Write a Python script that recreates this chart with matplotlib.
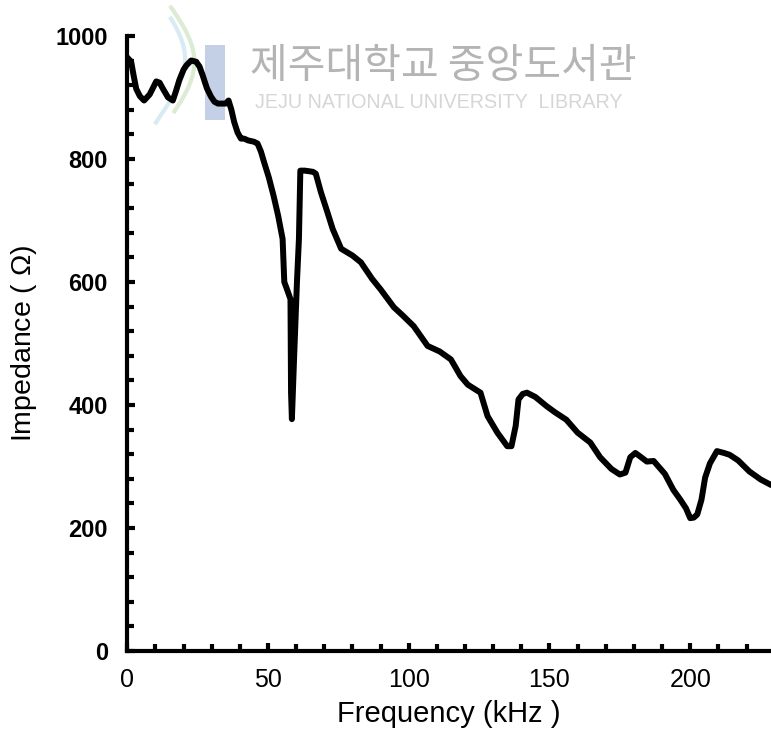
import numpy as np
import matplotlib
matplotlib.use("Agg")
import matplotlib.pyplot as plt
from matplotlib.ticker import MultipleLocator
from matplotlib.patches import Rectangle

plt.rcParams["mathtext.fontset"] = "custom"
plt.rcParams["mathtext.it"] = "Liberation Sans:italic"
plt.rcParams["mathtext.rm"] = "Liberation Sans"

# impedance sweep (kHz, ohm)
freq = [0, 1.4, 2.3, 3.2, 4.5, 6, 8, 10.3, 11.5, 12.7, 14.5, 16.2, 17.3, 18.5,
        20, 21, 22.7, 24.5, 25.7, 26.8, 28.3, 29.8, 31, 32.2, 35, 36, 37, 38,
        39.2, 40.4, 41.5, 43, 45, 46.3, 47.5, 48.6, 50.3, 52, 53.6, 55.2, 55.8,
        57, 58, 58.2, 58.5, 59.3, 60.3, 61, 61.5, 63, 64.6, 66, 67, 68.8, 71,
        73, 76, 80, 83, 87, 90, 94.7, 98, 101.8, 106.7, 111, 115, 118.4, 121,
        125.5, 128, 131.5, 135, 136.5, 138, 139, 140.5, 142, 145, 149, 152,
        156, 160, 164.5, 168, 172, 175, 177, 178.7, 180.5, 182, 184.6, 187,
        191, 194, 196.5, 198.5, 200, 201.3, 202.5, 204, 205.3, 207, 209.5,
        212, 214, 217, 221, 225, 228.7]
impedance = [965, 958, 935, 914, 902, 895, 905, 926, 924, 914, 900, 895, 910,
             928, 945, 952, 960, 958, 950, 936, 915, 901, 893, 890, 890, 895,
             880, 860, 843, 833, 833, 830, 828, 825, 812, 795, 770, 740, 708,
             670, 600, 585, 572, 420, 377, 479, 600, 670, 781, 781, 780, 779,
             776, 746, 715, 686, 654, 643, 632, 605, 588, 559, 545, 528, 496,
             487, 474, 447, 433, 420, 382, 355, 333, 333, 366, 409, 418, 420,
             413, 398, 388, 376, 355, 339, 315, 296, 287, 290, 315, 322, 317,
             308, 309, 288, 262, 246, 232, 216, 217, 222, 246, 282, 305, 325,
             322, 319, 310, 292, 279, 270]

fig = plt.figure(figsize=(7.71, 7.42), dpi=100)
ax = fig.add_axes([0.165, 0.1226, 0.835, 0.829])
ax.set_zorder(2)
ax.set_facecolor("none")

# library watermark behind the plot
fig.text(0.3245, 0.911, "제주대학교 중앙도서관", fontsize=29.5, color="#b4b4b4",
         family=["Noto Sans CJK KR", "DejaVu Sans"], va="center", ha="left", zorder=0)
fig.text(0.331, 0.862, "JEJU NATIONAL UNIVERSITY  LIBRARY", fontsize=14.2,
         color="#d6d6d6", family="Liberation Sans", va="center", ha="left", zorder=0)
fig.patches.append(Rectangle((0.266, 0.838), 0.026, 0.102, transform=fig.transFigure,
                             facecolor="#c3d0e6", edgecolor="none", zorder=0))
t = np.linspace(0, 1, 40)
fig.lines.append(plt.Line2D(0.222 + 0.03 * np.sin(t * 3.0), 0.99 - 0.14 * t,
                            transform=fig.transFigure, color="#dcebd3", lw=3, zorder=0))
fig.lines.append(plt.Line2D(0.210 + 0.03 * np.sin(t * 3.0 + 0.4), 0.975 - 0.14 * t,
                            transform=fig.transFigure, color="#d8eaf2", lw=3, zorder=0))

ax.plot(freq, impedance, color="black", lw=4.3, solid_joinstyle="round",
        solid_capstyle="round", zorder=3)

ax.set_xlim(0, 228.7)
ax.set_ylim(0, 1000)
ax.spines["top"].set_visible(False)
ax.spines["right"].set_visible(False)
for s in ("left", "bottom"):
    ax.spines[s].set_linewidth(3)

ax.xaxis.set_major_locator(MultipleLocator(50))
ax.xaxis.set_minor_locator(MultipleLocator(10))
ax.yaxis.set_major_locator(MultipleLocator(200))
ax.yaxis.set_minor_locator(MultipleLocator(40))
ax.tick_params(which="both", direction="in", width=3)
ax.tick_params(which="major", length=6)
ax.tick_params(which="minor", length=5)
ax.tick_params(axis="x", pad=12, labelsize=18)
ax.tick_params(axis="y", pad=14, labelsize=17)
for lab in ax.get_xticklabels():
    lab.set_family("Liberation Sans")
for lab in ax.get_yticklabels():
    lab.set_family("Liberation Sans")
    lab.set_fontweight("bold")

ax.set_xlabel("Frequency (kHz )", fontsize=21, family="Liberation Sans", labelpad=6)
ax.set_ylabel("Impedance ( $\\mathit{Ω}$)", fontsize=20.5, family="Liberation Sans",
              labelpad=12)

fig.savefig("out.png", dpi=100)
